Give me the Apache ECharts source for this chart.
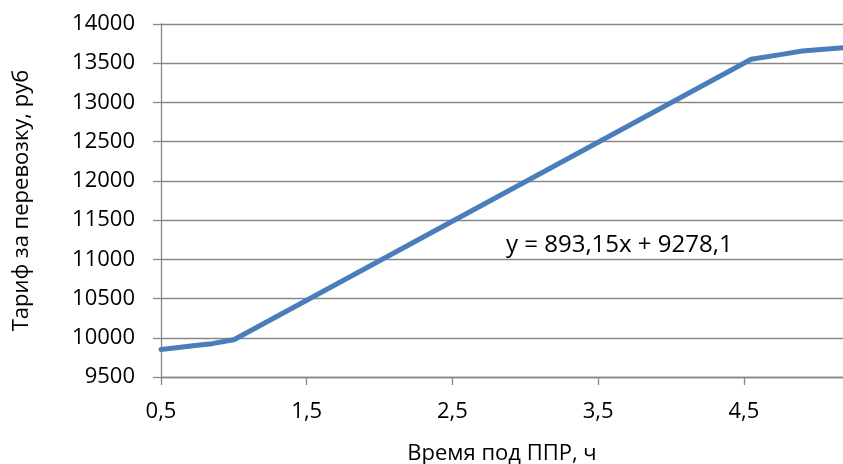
<!DOCTYPE html>
<html>
<head>
<meta charset="utf-8">
<script src="https://cdn.jsdelivr.net/npm/echarts@6/dist/echarts.min.js"></script>
<style>
html,body{margin:0;padding:0;background:#fff;}
#chart{width:843px;height:464px;}
</style>
</head>
<body>
<div id="chart"></div>
<script>
var hours = [0.5, 0.75, 0.85, 1.0, 4.55, 4.75, 4.9, 5.2];
var tariff = [9850, 9905, 9925, 9975, 13550, 13610, 13655, 13700];
var yTicks = [9500, 10000, 10500, 11000, 11500, 12000, 12500, 13000, 13500, 14000];
var xTicks = [0.5, 1.5, 2.5, 3.5, 4.5];
var equationText = 'y = 893,15x + 9278,1';
var xTitle = 'Время под ППР, ч';
var yTitle = 'Тариф за перевозку, руб';

var FONT = '"Open Sans", sans-serif';
var GRID = '#878787';
var chart = echarts.init(document.getElementById('chart'), null, {renderer: 'canvas'});
var seriesData = hours.map(function (h, i) { return [h, tariff[i]]; });

chart.setOption({
  animation: false,
  backgroundColor: '#ffffff',
  grid: {left: 161, right: 0, top: 24, bottom: 87, containLabel: false, outerBoundsMode: 'none'},
  xAxis: {
    type: 'value',
    min: xTicks[0],
    max: 5.18,
    interval: 1,
    name: xTitle,
    nameLocation: 'middle',
    nameGap: 66,
    nameTextStyle: {fontFamily: FONT, fontSize: 22, color: '#000'},
    axisLine: {show: true, lineStyle: {color: GRID, width: 1.3}},
    axisTick: {show: true, length: 8, lineStyle: {color: GRID, width: 1.3}},
    splitLine: {show: false},
    axisLabel: {
      fontFamily: FONT, fontSize: 22, color: '#000', margin: 24,
      showMaxLabel: false,
      formatter: function (v) {
        for (var i = 0; i < xTicks.length; i++) {
          if (Math.abs(v - xTicks[i]) < 1e-6) return String(xTicks[i]).replace('.', ',');
        }
        return '';
      }
    }
  },
  yAxis: {
    type: 'value',
    min: yTicks[0],
    max: yTicks[yTicks.length - 1],
    interval: 500,
    name: yTitle,
    nameLocation: 'middle',
    nameRotate: 90,
    nameGap: 128,
    nameTextStyle: {fontFamily: FONT, fontSize: 22, color: '#000'},
    axisLine: {show: true, lineStyle: {color: GRID, width: 1.3}},
    axisTick: {show: true, length: 8, lineStyle: {color: GRID, width: 1.3}},
    splitLine: {show: true, lineStyle: {color: GRID, width: 1.3}},
    axisLabel: {
      fontFamily: FONT, fontSize: 22, color: '#000', margin: 26,
      formatter: function (v) { return String(v); }
    }
  },
  graphic: [{
    type: 'text',
    left: 506,
    top: 233,
    style: {text: equationText, font: '24px ' + FONT, fill: '#000'}
  }],
  series: [{
    type: 'line',
    data: seriesData,
    showSymbol: false,
    symbol: 'none',
    lineStyle: {color: '#4A7EBB', width: 5, join: 'round', cap: 'round'},
    clip: true
  }]
});
</script>
</body>
</html>
